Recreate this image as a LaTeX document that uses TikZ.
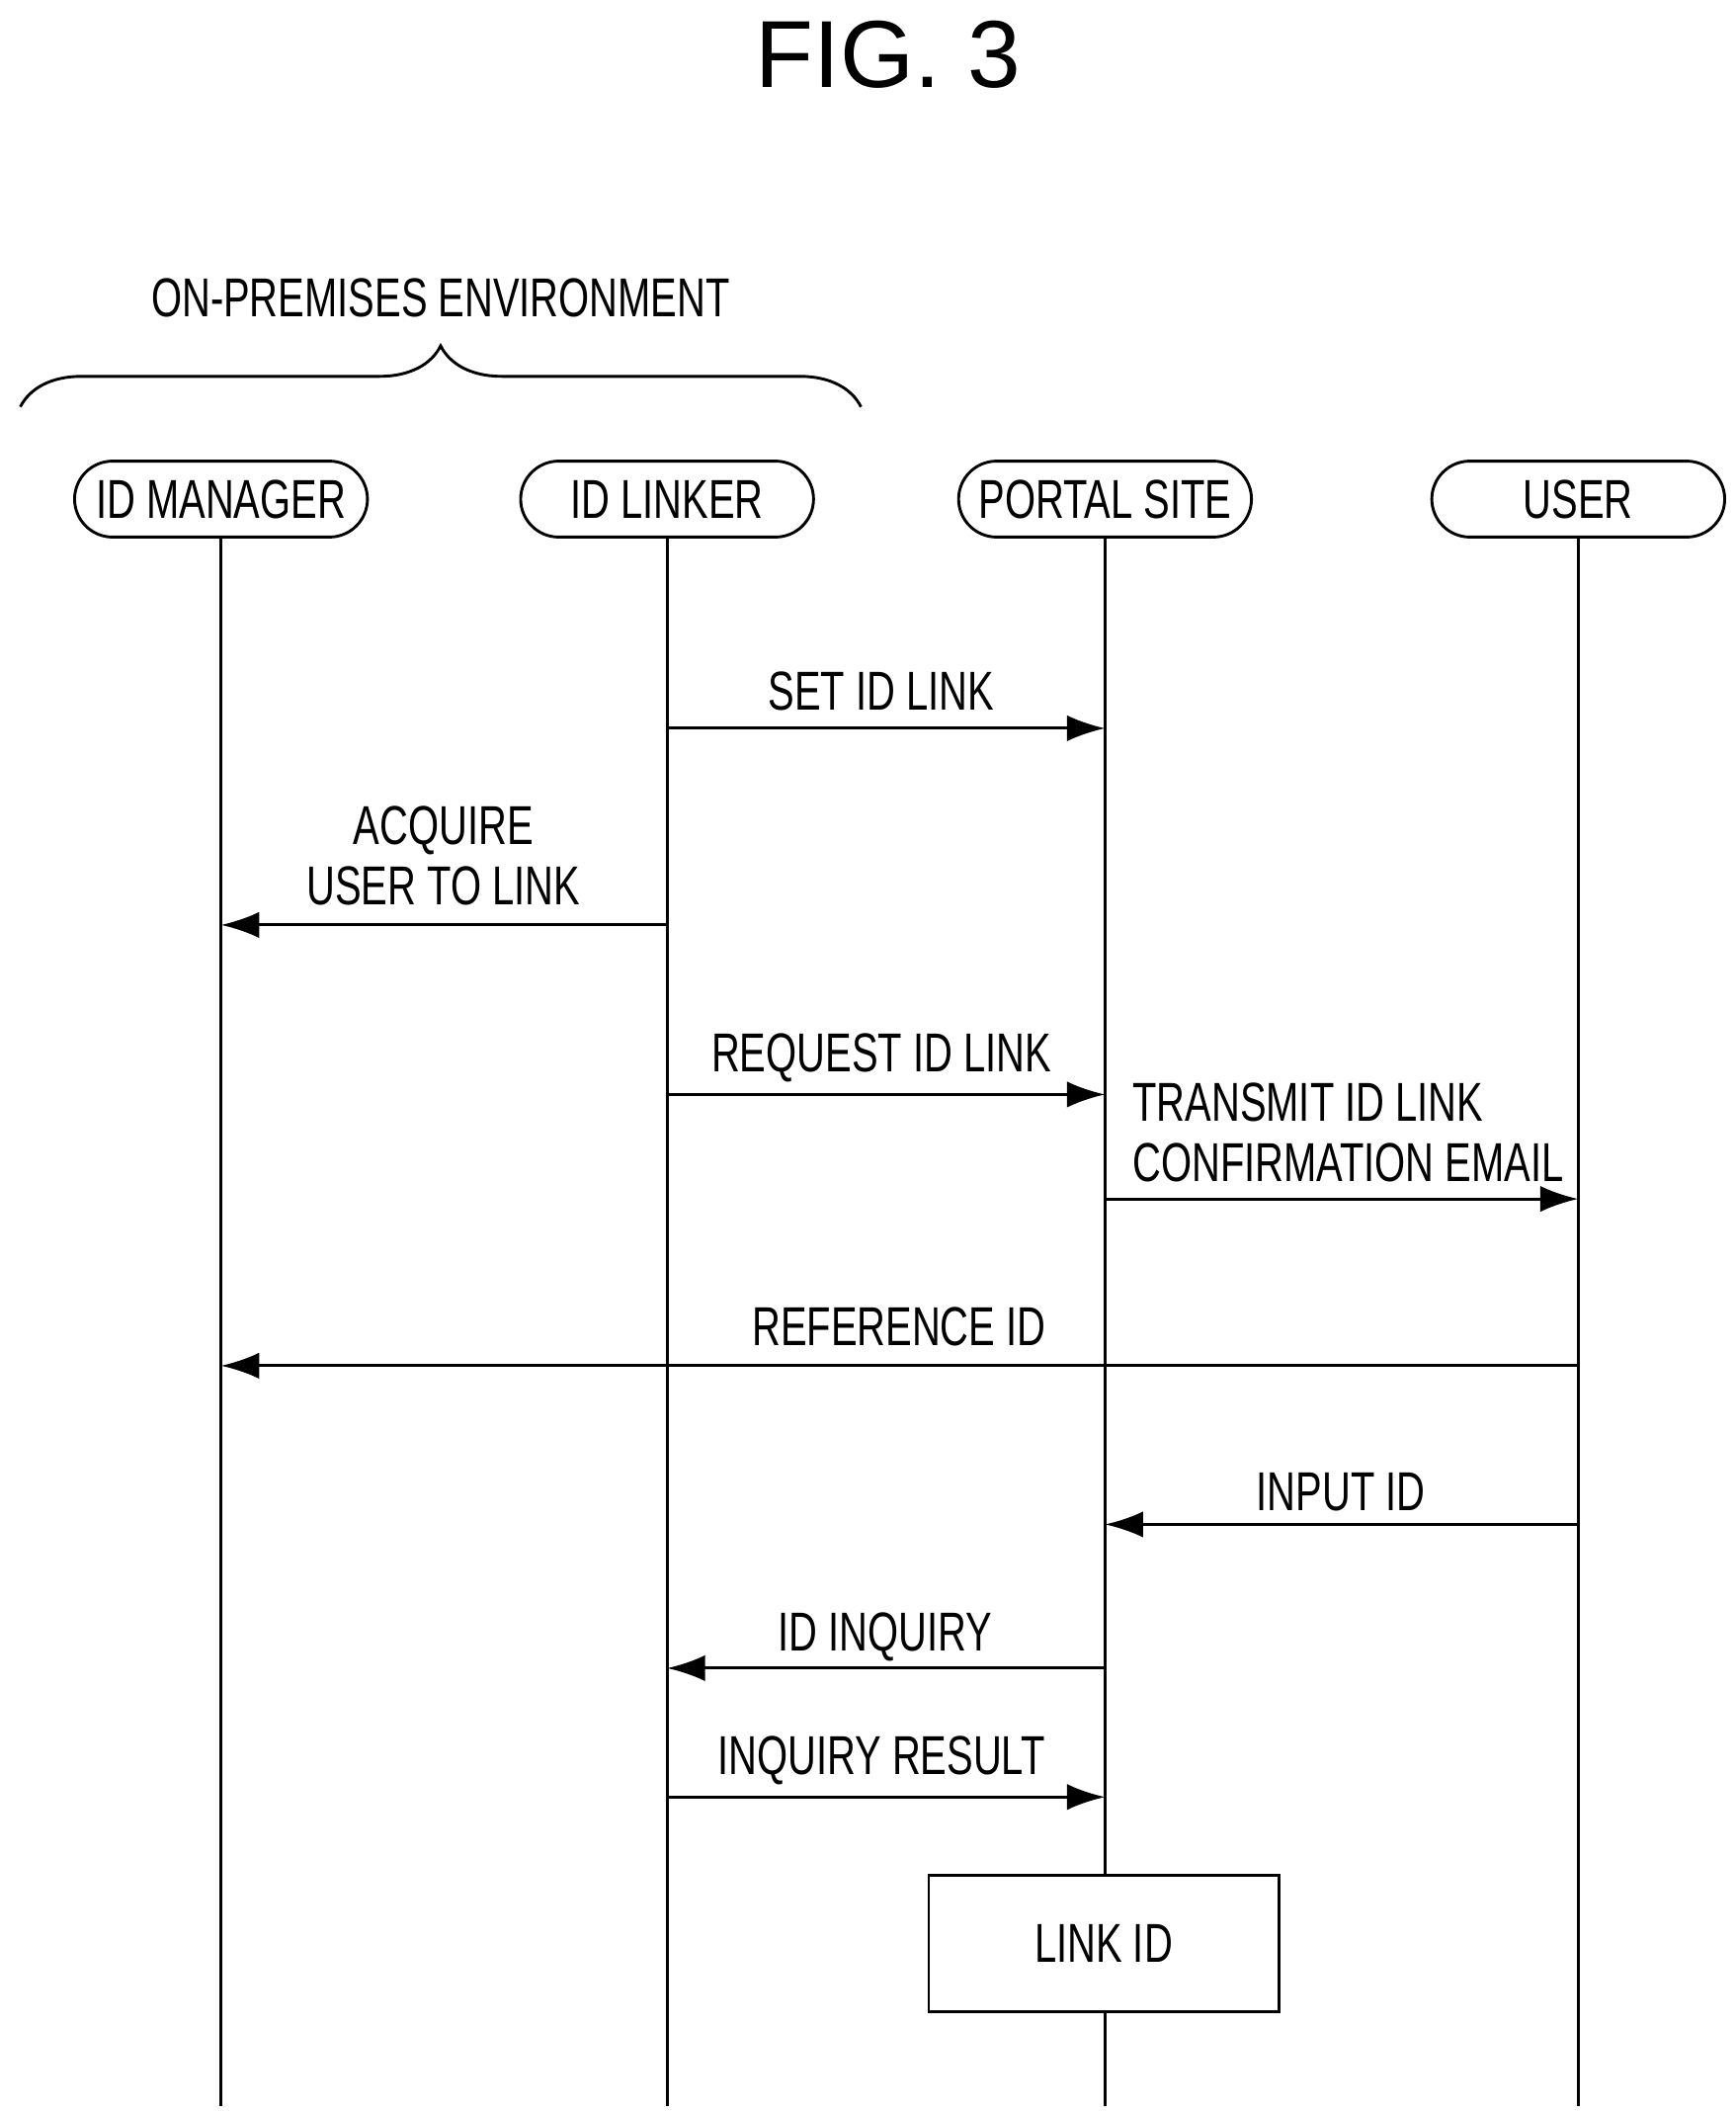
\documentclass[tikz,border=0pt]{standalone}
\usepackage{fontspec}
\setmainfont{Liberation Sans}
\newfontfamily\narrowf[FakeStretch=0.72]{Liberation Sans}
\usetikzlibrary{decorations.pathreplacing,arrows.meta}
\begin{document}
\begin{tikzpicture}[x=0.02cm,y=-0.02cm,
  head/.style={draw,line width=1.2pt,rounded corners=28*0.02cm,minimum width=216*0.02cm,minimum height=56*0.02cm,inner sep=0pt,font=\narrowf\fontsize{23}{25}\selectfont},
  txt/.style={font=\narrowf\fontsize{23}{25}\selectfont,inner sep=0pt},
  life/.style={line width=1.2pt},
  msg/.style={line width=1.2pt,-{Latex[length=16pt,width=11pt]}}]
\useasboundingbox (0,0) rectangle (1280,1558);
\node[font=\fontsize{40}{44}\selectfont] (title) at (655,40) {FIG. 3};
\node[txt] (env) at (325,220) {ON-PREMISES ENVIRONMENT};
\coordinate (b1) at (15,300); \coordinate (b2) at (635,300);
\draw[line width=1.2pt,decorate,decoration={brace,amplitude=45*0.02cm}] (b1) -- (b2);
\foreach \n/\x/\t in {m/163/ID MANAGER,l/492/ID LINKER,p/815/PORTAL SITE,u/1164/USER}{
  \node[head] (\n) at (\x,368) {\t};
  \coordinate (\n e) at (\x,1553);
  \draw[life] (\n) -- (\n e);
  \foreach \y in {537,682,807,884,1007,1124,1230,1325}{\coordinate (\n\y) at (\x,\y);}
}
\draw[msg] (l537) -- (p537); \node[txt] (t1) at (650,510) {SET ID LINK};
\draw[msg] (l682) -- (m682);
\node[txt,align=center] (t2) at (327,631) {ACQUIRE\\USER TO LINK};
\draw[msg] (l807) -- (p807); \node[txt] (t3) at (650,780) {REQUEST ID LINK};
\draw[msg] (p884) -- (u884);
\node[txt,align=left,anchor=west] (t4) at (835,835) {TRANSMIT ID LINK\\CONFIRMATION EMAIL};
\draw[msg] (u1007) -- (m1007); \node[txt] (t5) at (663,978) {REFERENCE ID};
\draw[msg] (u1124) -- (p1124); \node[txt] (t6) at (989,1100) {INPUT ID};
\draw[msg] (p1230) -- (l1230); \node[txt] (t7) at (653,1207) {ID INQUIRY};
\draw[msg] (l1325) -- (p1325); \node[txt] (t8) at (650,1298) {INQUIRY RESULT};
\node[draw,fill=white,line width=1.2pt,minimum width=258*0.02cm,minimum height=101*0.02cm,font=\narrowf\fontsize{23}{25}\selectfont] (link) at (814,1433) {LINK ID};
\end{tikzpicture}
\end{document}
